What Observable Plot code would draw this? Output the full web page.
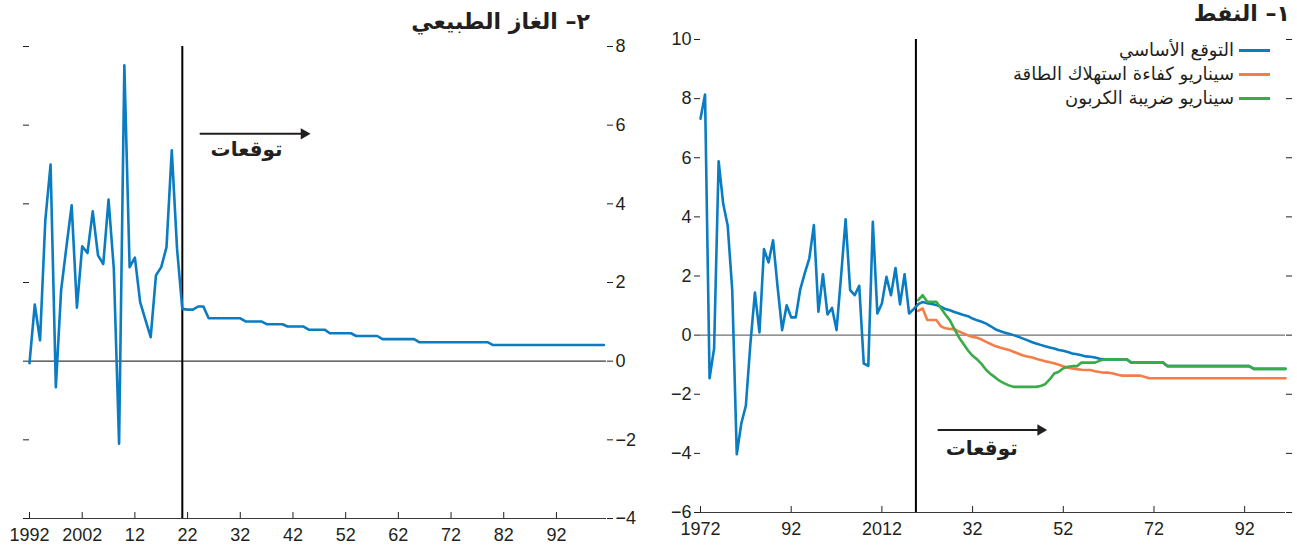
<!DOCTYPE html>
<html lang="ar">
<head>
<meta charset="utf-8">
<script src="https://cdn.jsdelivr.net/npm/d3@7"></script>
<script src="https://cdn.jsdelivr.net/npm/@observablehq/plot@0.6"></script>
<style>
  html, body { margin: 0; padding: 0; background: #fff; }
  #chart { position: relative; width: 1297px; height: 552px; overflow: hidden; color: #231f20; }
  .panel { position: absolute; top: 0; }
  .title { position: absolute; direction: rtl; font-family: "DejaVu Sans", sans-serif; font-weight: bold; font-size: 22px; white-space: nowrap; line-height: 26px; }
  .legend { position: absolute; direction: rtl; font-family: "DejaVu Sans", sans-serif; font-size: 18px; line-height: 24px; }
  .legend .row { display: flex; align-items: center; height: 24px; white-space: nowrap; }
  .legend .sw { width: 31px; height: 3px; margin-left: 5px; flex: none; }
</style>
</head>
<body>
<div id="chart">
  <div class="panel" id="gas" style="left:0;"></div>
  <div class="panel" id="oil" style="left:650px;"></div>
  <div class="title" style="right:707px; top:9px;">٢– الغاز الطبيعي</div>
  <div class="title" style="right:7px; top:1px;">١– النفط</div>
  <div class="legend" id="legend" style="right:27px; top:38px;"></div>
</div>
<script>
// Series colours
const blue = "#0a7cc1", orange = "#f47d48", green = "#3aab48", ink = "#231f20";

// Legend entries (oil panel)
const legendNames = ["التوقع الأساسي", "سيناريو كفاءة استهلاك الطاقة", "سيناريو ضريبة الكربون"];
const legendColors = [blue, orange, green];

// Natural gas: actual growth 1992–2021, baseline forecast 2022–2101 (percent)
const gasActualStart = 1992;
const gasActual = [-0.05, 1.44, 0.53, 3.58, 5.0, -0.66, 1.8, 2.9, 3.96, 1.36,
  2.92, 2.75, 3.81, 2.69, 2.47, 4.11, 2.35, -2.10, 7.52, 2.39,
  2.63, 1.50, 1.05, 0.61, 2.18, 2.39, 2.90, 5.36, 2.86, 1.33];
const gasForecastStart = 2022;
const gasBaseline = [1.31, 1.31, 1.39, 1.39,
  1.09, 1.09, 1.09, 1.09, 1.09, 1.09, 1.09,
  1.01, 1.01, 1.01, 1.01,
  0.94, 0.94, 0.94, 0.94,
  0.88, 0.88, 0.88, 0.88,
  0.80, 0.80, 0.80, 0.80,
  0.71, 0.71, 0.71, 0.71, 0.71,
  0.64, 0.64, 0.64, 0.64, 0.64,
  0.56, 0.56, 0.56, 0.56, 0.56, 0.56, 0.56,
  0.48, 0.48, 0.48, 0.48, 0.48, 0.48, 0.48, 0.48, 0.48, 0.48, 0.48, 0.48, 0.48, 0.48,
  0.41, 0.41, 0.41, 0.41, 0.41, 0.41, 0.41, 0.41, 0.41, 0.41, 0.41,
  0.41, 0.41, 0.41, 0.41, 0.41, 0.41, 0.41, 0.41, 0.41, 0.41, 0.41];
const gasForecastLine = 2021;
const gasXTicks = [1992, 2002, 2012, 2022, 2032, 2042, 2052, 2062, 2072, 2082, 2092];
const gasXTickLabels = ["1992", "2002", "12", "22", "32", "42", "52", "62", "72", "82", "92"];
const gasYTicks = [-4, -2, 0, 2, 4, 6, 8];
const gasArrow = [{x1: 2024.3, x2: 2044.1, y: 5.78, labelX: 2033.2, labelY: 5.37}];

// Oil: actual growth 1972–2019, three forecast paths 2020–2101 (percent)
const oilActualStart = 1972;
const oilActual = [7.32, 8.14, -1.46, -0.45, 5.88, 4.45, 3.70, 1.52, -4.03, -2.99,
  -2.39, -0.30, 1.44, 0.09, 2.91, 2.46, 3.21, 1.63, 0.17, 1.01,
  0.60, 0.60, 1.55, 2.10, 2.60, 3.72, 0.79, 2.06, 0.70, 0.92,
  0.17, 2.00, 3.92, 1.52, 1.35, 1.67, -0.96, -1.04, 3.83, 0.73,
  1.07, 1.97, 1.35, 2.27, 1.04, 2.06, 0.73, 0.88];
const oilForecastStart = 2020;
const oilBaseline = [1.05, 1.12, 1.08, 1.05, 1.02, 0.96, 0.88, 0.84, 0.78, 0.73,
  0.68, 0.64, 0.56, 0.50, 0.45, 0.39, 0.30, 0.20, 0.14, 0.09,
  0.05, 0.00, -0.05, -0.11, -0.17, -0.23, -0.28, -0.33, -0.38, -0.42,
  -0.45, -0.50, -0.53, -0.57, -0.62, -0.65, -0.68, -0.72, -0.73, -0.76,
  -0.80, -0.82,
  -0.82, -0.82, -0.82, -0.82, -0.82,
  -0.93, -0.93, -0.93, -0.93, -0.93, -0.93, -0.93, -0.93,
  -1.05, -1.05, -1.05, -1.05, -1.05, -1.05, -1.05, -1.05, -1.05, -1.05,
  -1.05, -1.05, -1.05, -1.05, -1.05, -1.05, -1.05, -1.05, -1.05,
  -1.14, -1.14, -1.14, -1.14, -1.14, -1.14, -1.14, -1.14];
const oilEfficiency = [0.82, 0.90, 0.51, 0.51, 0.51, 0.30, 0.23, 0.21, 0.20, 0.12,
  0.06, -0.01, -0.06, -0.09, -0.15, -0.23, -0.30, -0.37, -0.42, -0.46,
  -0.50, -0.56, -0.62, -0.68, -0.72, -0.75, -0.80, -0.84, -0.88, -0.92,
  -0.95, -1.00, -1.05, -1.10, -1.13, -1.15, -1.17, -1.18, -1.18, -1.22,
  -1.25, -1.27, -1.27, -1.30, -1.34, -1.37, -1.37, -1.37, -1.37, -1.37,
  -1.42,
  -1.46, -1.46, -1.46, -1.46, -1.46, -1.46, -1.46, -1.46, -1.46, -1.46,
  -1.46, -1.46, -1.46, -1.46, -1.46, -1.46, -1.46, -1.46, -1.46, -1.46,
  -1.46, -1.46, -1.46, -1.46, -1.46, -1.46, -1.46, -1.46, -1.46, -1.46, -1.46];
const oilCarbonTax = [1.18, 1.35, 1.13, 1.13, 1.13, 0.92, 0.70, 0.50, 0.20, -0.08,
  -0.30, -0.52, -0.70, -0.82, -0.98, -1.18, -1.32, -1.43, -1.55, -1.63,
  -1.70, -1.75, -1.75, -1.75, -1.75, -1.75, -1.75, -1.72, -1.66, -1.50,
  -1.30, -1.24, -1.12, -1.07, -1.05, -1.05, -0.93, -0.93, -0.93, -0.93,
  -0.87, -0.82,
  -0.82, -0.82, -0.82, -0.82, -0.82,
  -0.93, -0.93, -0.93, -0.93, -0.93, -0.93, -0.93, -0.93,
  -1.05, -1.05, -1.05, -1.05, -1.05, -1.05, -1.05, -1.05, -1.05, -1.05,
  -1.05, -1.05, -1.05, -1.05, -1.05, -1.05, -1.05, -1.05, -1.05,
  -1.14, -1.14, -1.14, -1.14, -1.14, -1.14, -1.14, -1.14];
const oilForecastLine = 2019.5;
const oilXTicks = [1972, 1992, 2012, 2032, 2052, 2072, 2092];
const oilXTickLabels = ["1972", "92", "2012", "32", "52", "72", "92"];
const oilYTicks = [-6, -4, -2, 0, 2, 4, 6, 8, 10];
const oilArrow = [{x1: 2024.3, x2: 2047.0, y: -3.21, labelX: 2034.0, labelY: -3.85}];

const forecastLabel = "توقعات";

// Turn an annual series into {year, value} rows
const rows = (start, values) => values.map((value, i) => ({year: start + i, value}));

const gasRows = [...rows(gasActualStart, gasActual), ...rows(gasForecastStart, gasBaseline)];
const oilBlueRows = [...rows(oilActualStart, oilActual), ...rows(oilForecastStart, oilBaseline)];
const oilOrangeRows = rows(oilForecastStart, oilEfficiency);
const oilGreenRows = rows(oilForecastStart, oilCarbonTax);

const axisFont = "'Liberation Sans', Arial, sans-serif";
const arabicFont = "'DejaVu Sans', sans-serif";
const baseStyle = {fontFamily: axisFont, fontSize: "18px", color: ink, background: "transparent", overflow: "visible"};

function arrowMarks(arrow) {
  return [
    Plot.link(arrow, {x1: "x1", x2: "x2", y1: "y", y2: "y", stroke: ink, strokeWidth: 2}),
    Plot.dot(arrow, {x: "x2", y: "y", symbol: "triangle", rotate: 90, r: 4.2, fill: ink, stroke: null}),
    Plot.text(arrow, {x: "labelX", y: "labelY", text: () => forecastLabel, fontFamily: arabicFont,
      fontWeight: "bold", fontSize: 20, fill: ink, lineAnchor: "middle"})
  ];
}

// Panel 2: natural gas (values axis on the right)
const gasLabel = new Map(gasXTicks.map((t, i) => [t, gasXTickLabels[i]]));
const gasPlot = Plot.plot({
  width: 650, height: 552,
  marginLeft: 29, marginRight: 44, marginTop: 46, marginBottom: 34,
  style: baseStyle,
  x: {domain: [1992, 2101.5], label: null},
  y: {domain: [-4, 8], label: null},
  marks: [
    Plot.ruleY([0], {stroke: "#3a3a3a", strokeWidth: 1.2}),
    Plot.ruleY([-4], {stroke: "#3a3a3a", strokeWidth: 1.2}),
    Plot.axisX({ticks: gasXTicks, tickFormat: d => gasLabel.get(d), tickSize: -6, tickPadding: 16, label: null}),
    Plot.axisY({anchor: "right", ticks: gasYTicks, tickSize: 6, tickPadding: 3, label: null}),
    Plot.axisY({anchor: "left", ticks: gasYTicks, tickSize: 6, tickFormat: () => "", label: null}),
    Plot.ruleX([gasForecastLine], {stroke: "#000", strokeWidth: 2}),
    Plot.line(gasRows, {x: "year", y: "value", stroke: blue, strokeWidth: 2.6}),
    ...arrowMarks(gasArrow)
  ]
});
document.getElementById("gas").append(gasPlot);

// Panel 1: oil (values axis on the left)
const oilLabel = new Map(oilXTicks.map((t, i) => [t, oilXTickLabels[i]]));
const oilPlot = Plot.plot({
  width: 647, height: 552,
  marginLeft: 50, marginRight: 12, marginTop: 39, marginBottom: 40,
  style: baseStyle,
  x: {domain: [1972, 2101], label: null},
  y: {domain: [-6, 10], label: null},
  marks: [
    Plot.ruleY([0], {stroke: "#707070", strokeWidth: 1.4}),
    Plot.ruleY([-6], {stroke: "#3a3a3a", strokeWidth: 1.2}),
    Plot.axisX({ticks: oilXTicks, tickFormat: d => oilLabel.get(d), tickSize: -6, tickPadding: 16, label: null}),
    Plot.axisY({anchor: "left", ticks: oilYTicks, tickSize: 6, tickPadding: 3, label: null}),
    Plot.axisY({anchor: "right", ticks: oilYTicks, tickSize: 6, tickFormat: () => "", label: null}),
    Plot.ruleX([oilForecastLine], {stroke: "#000", strokeWidth: 2}),
    Plot.line(oilBlueRows, {x: "year", y: "value", stroke: blue, strokeWidth: 2.6}),
    Plot.line(oilOrangeRows, {x: "year", y: "value", stroke: orange, strokeWidth: 2.6}),
    Plot.line(oilGreenRows, {x: "year", y: "value", stroke: green, strokeWidth: 2.6}),
    ...arrowMarks(oilArrow)
  ]
});
document.getElementById("oil").append(oilPlot);

// Legend for the oil scenarios
const legend = document.getElementById("legend");
legendNames.forEach((name, i) => {
  const row = document.createElement("div");
  row.className = "row";
  const sw = document.createElement("span");
  sw.className = "sw";
  sw.style.background = legendColors[i];
  const label = document.createElement("span");
  label.textContent = name;
  row.append(sw, label);
  legend.append(row);
});
</script>
</body>
</html>
